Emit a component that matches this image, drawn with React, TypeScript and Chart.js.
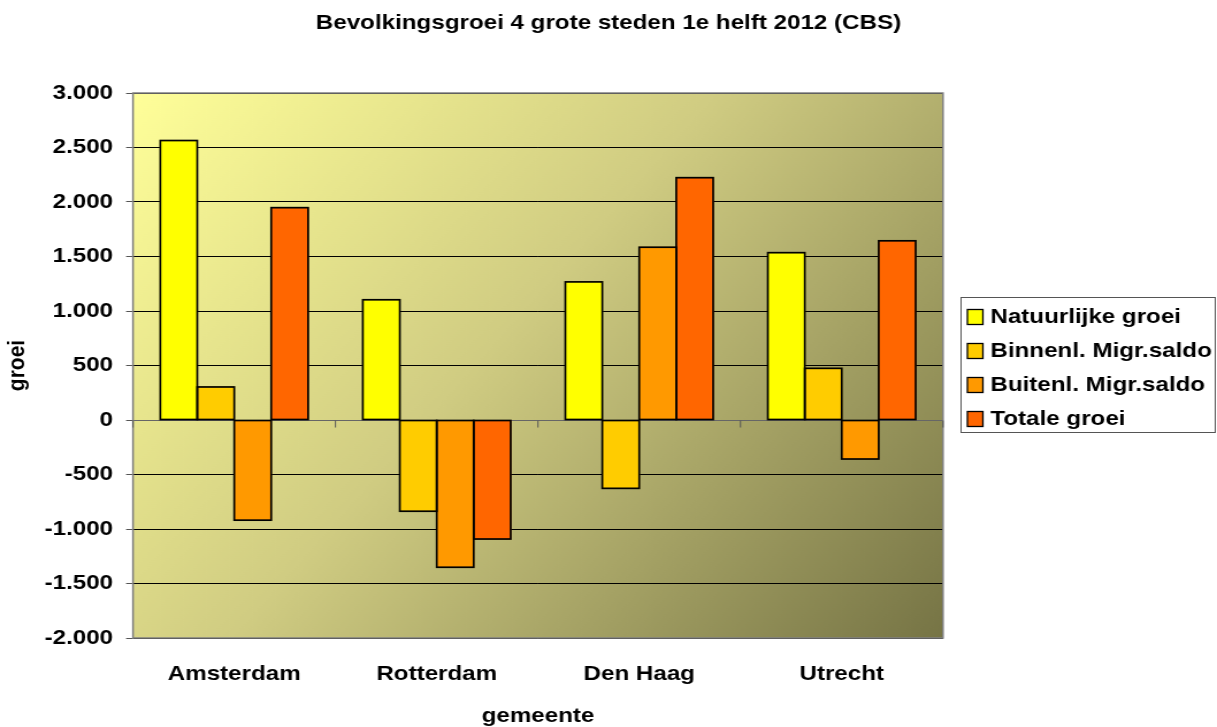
import React, { useEffect, useRef } from "react";
import { Chart, registerables } from "chart.js";

Chart.register(...registerables);

// ---- data ----
const categories = ["Amsterdam", "Rotterdam", "Den Haag", "Utrecht"];
const seriesNames = [
  "Natuurlijke groei",
  "Binnenl. Migr.saldo",
  "Buitenl. Migr.saldo",
  "Totale groei",
];
const natuurlijkeGroei = [2564, 1103, 1267, 1535];
const binnenlMigrSaldo = [303, -837, -627, 474];
const buitenlMigrSaldo = [-919, -1351, 1585, -358];
const totaleGroei = [1948, -1092, 2223, 1644];
const seriesColors = ["#FFFF00", "#FFCC00", "#FF9900", "#FF6600"];
const yMin = -2000;
const yMax = 3000;
const yStep = 500;
const chartTitle = "Bevolkingsgroei 4 grote steden 1e helft 2012 (CBS)";
const yTitle = "groei";
const xTitle = "gemeente";

// ---- layout (canvas is drawn narrower and stretched horizontally, like the reference) ----
const OUT_W = 1217;
const OUT_H = 727;
const W = 1058;
const H = 727;
const FONT = '"Liberation Sans", Arial, Helvetica, sans-serif';
const CAT_PCT = 0.73;

const fmt = (v: number) => {
  const s = Math.abs(v)
    .toString()
    .replace(/\B(?=(\d{3})+(?!\d))/g, ".");
  return (v < 0 ? "-" : "") + s;
};

const decorPlugin = {
  id: "decor",
  beforeDraw(chart: any) {
    const { ctx, chartArea: a } = chart;
    if (!a) return;
    ctx.save();
    const g = ctx.createLinearGradient(a.left, a.top, a.right, a.bottom);
    g.addColorStop(0, "#FFFF99");
    g.addColorStop(0.45, "#D0CC82");
    g.addColorStop(1, "#767445");
    ctx.fillStyle = g;
    ctx.fillRect(a.left, a.top, a.right - a.left, a.bottom - a.top);
    ctx.restore();
  },
  afterDatasetsDraw(chart: any) {
    // black outlines around every bar element (drawn from the library's bar geometry)
    const { ctx } = chart;
    ctx.save();
    ctx.strokeStyle = "#000000";
    ctx.lineWidth = 1.7;
    chart.data.datasets.forEach((_ds: any, i: number) => {
      const meta = chart.getDatasetMeta(i);
      meta.data.forEach((bar: any) => {
        const { x, y, base, width } = bar.getProps(["x", "y", "base", "width"], true);
        const top = Math.min(y, base);
        const h = Math.abs(base - y);
        ctx.strokeRect(x - width / 2, top, width, h);
      });
    });
    ctx.restore();
  },
  afterDraw(chart: any) {
    const { ctx, chartArea: a } = chart;
    const xs = chart.scales.x;
    const ys = chart.scales.y;
    ctx.save();
    // plot border
    ctx.strokeStyle = "#808080";
    ctx.lineWidth = 1.5;
    ctx.strokeRect(a.left, a.top, a.right - a.left, a.bottom - a.top);
    // category axis tick marks at zero
    const y0 = Math.round(ys.getPixelForValue(0)) + 0.5;
    ctx.strokeStyle = "#555555";
    ctx.lineWidth = 1;
    for (let i = 0; i <= categories.length; i++) {
      const x = xs.getPixelForValue(i - 0.5);
      ctx.beginPath();
      ctx.moveTo(x, y0);
      ctx.lineTo(x, y0 + 7);
      ctx.stroke();
    }
    // legend
    const boxL = 835;
    const boxR = 1057;
    const boxT = 297;
    const boxB = 433;
    ctx.fillStyle = "#FFFFFF";
    ctx.fillRect(boxL, boxT, boxR - boxL, boxB - boxT);
    ctx.strokeStyle = "#555555";
    ctx.lineWidth = 1;
    ctx.strokeRect(boxL + 0.5, boxT + 0.5, boxR - boxL - 1, boxB - boxT - 1);
    ctx.font = `bold 21px ${FONT}`;
    ctx.textBaseline = "middle";
    ctx.textAlign = "left";
    chart.data.datasets.forEach((ds: any, i: number) => {
      const cy = 317 + 34 * i;
      ctx.fillStyle = ds.backgroundColor;
      ctx.fillRect(841, cy - 7.5, 13.5, 15);
      ctx.strokeStyle = "#000000";
      ctx.lineWidth = 1.3;
      ctx.strokeRect(841, cy - 7.5, 13.5, 15);
      ctx.fillStyle = "#000000";
      ctx.fillText(ds.label, 861, cy);
    });
    ctx.restore();
  },
};

export default function App() {
  const ref = useRef<HTMLCanvasElement | null>(null);

  useEffect(() => {
    document.body.style.margin = "0";
    const canvas = ref.current;
    if (!canvas) return;
    const values = [natuurlijkeGroei, binnenlMigrSaldo, buitenlMigrSaldo, totaleGroei];
    const chart = new Chart(canvas, {
      type: "bar",
      data: {
        labels: categories,
        datasets: seriesNames.map((name, i) => ({
          label: name,
          data: values[i],
          backgroundColor: seriesColors[i],
          borderColor: "#000000",
          borderWidth: 0,
          borderSkipped: false,
          inflateAmount: 0.5,
          categoryPercentage: CAT_PCT,
          barPercentage: 1.0,
        })),
      },
      options: {
        responsive: false,
        maintainAspectRatio: false,
        animation: false,
        devicePixelRatio: 1,
        layout: { padding: 0 },
        font: { family: FONT, size: 21, weight: "bold" },
        color: "#000000",
        datasets: {
          bar: { categoryPercentage: CAT_PCT, barPercentage: 1.0, grouped: true },
        },
        plugins: {
          legend: { display: false },
          tooltip: { enabled: false },
          title: {
            display: true,
            text: chartTitle,
            color: "#000000",
            font: { family: FONT, size: 21, weight: "bold", lineHeight: 1.2 },
            padding: { top: 11, bottom: 56.8 },
          },
        },
        scales: {
          x: {
            type: "category",
            position: "bottom",
            offset: true,
            grid: { display: false, drawTicks: false, offset: true },
            border: { display: false },
            ticks: {
              color: "#000000",
              font: { family: FONT, size: 21, weight: "bold" },
              padding: 23.5,
              maxRotation: 0,
              autoSkip: false,
            },
            title: {
              display: true,
              text: xTitle,
              color: "#000000",
              font: { family: FONT, size: 21, weight: "bold", lineHeight: 1 },
              padding: { top: 0, bottom: 0 },
            },
            afterFit: (s: any) => {
              s.height = 89;
            },
          },
          y: {
            type: "linear",
            position: "left",
            min: yMin,
            max: yMax,
            ticks: {
              stepSize: yStep,
              color: "#000000",
              font: { family: FONT, size: 21, weight: "bold" },
              padding: 11.3,
              callback: (v: any) => fmt(Number(v)),
            },
            grid: {
              color: (c: any) => (c.tick && c.tick.value === 0 ? "#666666" : "#000000"),
              lineWidth: 1,
              drawTicks: true,
              tickLength: 6,
              tickColor: "#555555",
            },
            border: { display: true, color: "#808080", width: 1 },
            title: {
              display: true,
              text: yTitle,
              color: "#000000",
              font: { family: FONT, size: 21, weight: "bold", lineHeight: 1 },
              padding: { top: 5, bottom: 0 },
            },
            afterFit: (s: any) => {
              s.width = 115.6;
            },
          },
          rightSpace: {
            type: "linear",
            position: "right",
            display: true,
            grid: { display: false, drawTicks: false },
            border: { display: false },
            ticks: { display: false },
            afterFit: (s: any) => {
              s.width = 238.2;
            },
          },
        },
      } as any,
      plugins: [decorPlugin],
    });
    return () => chart.destroy();
  }, []);

  return (
    <div style={{ position: "absolute", left: 0, top: 0, width: OUT_W, height: OUT_H, background: "#FFFFFF" }}>
      <canvas
        ref={ref}
        width={W}
        height={H}
        style={{ width: `${OUT_W}px`, height: `${OUT_H}px`, display: "block" }}
      />
    </div>
  );
}
